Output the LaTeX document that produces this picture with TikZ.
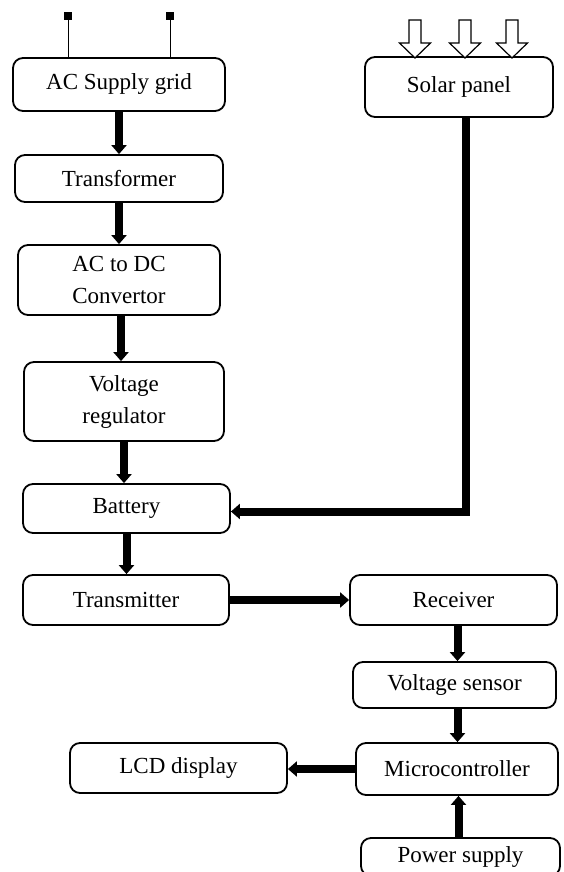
\documentclass[tikz,border=0pt]{standalone}
\usepackage{fontspec}
\setmainfont{Liberation Serif}
\usepackage{tikz}
\usetikzlibrary{arrows.meta, positioning, calc}

\begin{document}
\begin{tikzpicture}[
    x=0.5pt, y=-0.5pt,
    block/.style={rectangle, rounded corners=5pt, draw=black, line width=0.9pt, align=center, font=\fontsize{11.5}{14}\selectfont, inner sep=2pt},
    flow/.style={line width=4pt, -{Triangle[length=4.5pt, width=7.5pt]}},
    sun/.style={draw=black, line width=0.6pt, fill=white}
]
    \useasboundingbox (0,0) rectangle (563,872);
    \clip (0,0) rectangle (563,872);

    % Blocs de la chaine d'alimentation
    \node[block, minimum width=106pt, minimum height=26.5pt] (grid) at (119, 84.5) {AC Supply grid};
    \node[block, minimum width=104pt, minimum height=23.5pt] (trans) at (119, 178.5) {Transformer};
    \node[block, minimum width=101pt, minimum height=35pt] (acdc) at (119, 280) {AC to DC\\[2pt]Convertor};
    \node[block, minimum width=100pt, minimum height=39.5pt] (vreg) at (124, 401.5) {Voltage\\[2pt]regulator};
    \node[block, minimum width=103.5pt, minimum height=24.5pt] (batt) at (126.5, 508.5) {Battery};
    \node[block, minimum width=103pt, minimum height=25pt] (tx) at (126, 600) {Transmitter};
    \node[block, minimum width=94pt, minimum height=30pt] (solar) at (459, 87) {Solar panel};

    % Blocs cote recepteur
    \node[block, minimum width=103.5pt, minimum height=25pt] (rx) at (453.5, 600) {Receiver};
    \node[block, minimum width=101.5pt, minimum height=23pt] (vsens) at (454.5, 685) {Voltage sensor};
    \node[block, minimum width=101pt, minimum height=26pt] (micro) at (457, 769) {Microcontroller};
    \node[block, minimum width=108.5pt, minimum height=25pt] (lcd) at (178.5, 768) {LCD display};
    \node[block, minimum width=99.5pt, minimum height=19pt] (power) at (460.5, 857) {Power supply};

    % Prise du reseau
    \coordinate (plugA) at (68, 16);
    \coordinate (plugB) at (170, 16);
    \draw[line width=0.5pt] (plugA) -- (plugA |- grid.north);
    \draw[line width=0.5pt] (plugB) -- (plugB |- grid.north);
    \fill (plugA) +(-4,-4) rectangle +(4,4);
    \fill (plugB) +(-4,-4) rectangle +(4,4);

    % Rayons du soleil
    \foreach \sx in {415, 465, 512} {
        \draw[sun] (\sx-6, 20) -- (\sx+6, 20) -- (\sx+6, 43) -- (\sx+15.5, 43)
            -- (\sx, 58) -- (\sx-15.5, 43) -- (\sx-6, 43) -- cycle;
    }

    % Fleches verticales
    \draw[flow] (grid.south) -- (grid.south |- trans.north);
    \draw[flow] (trans.south) -- (trans.south |- acdc.north);
    \draw[flow] ([xshift=1pt]acdc.south) -- ([xshift=1pt]acdc.south |- vreg.north);
    \draw[flow] (vreg.south) -- (vreg.south |- batt.north);
    \draw[flow] (batt.south) -- (batt.south |- tx.north);

    % Panneau solaire -> batterie
    \draw[flow] ([xshift=3.5pt]solar.south) |- ([yshift=-1.5pt]batt.east);

    % Liaison sans fil
    \draw[flow] (tx.east) -- (rx.west);
    \draw[flow] ([xshift=2pt]rx.south) -- ([xshift=2pt]rx.south |- vsens.north);
    \draw[flow] ([xshift=1.5pt]vsens.south) -- ([xshift=1.5pt]vsens.south |- micro.north);
    \draw[flow] (micro.west) -- (micro.west -| lcd.east);
    \draw[flow] ([xshift=-1pt]power.north) -- ([xshift=-1pt]power.north |- micro.south);

\end{tikzpicture}
\end{document}
